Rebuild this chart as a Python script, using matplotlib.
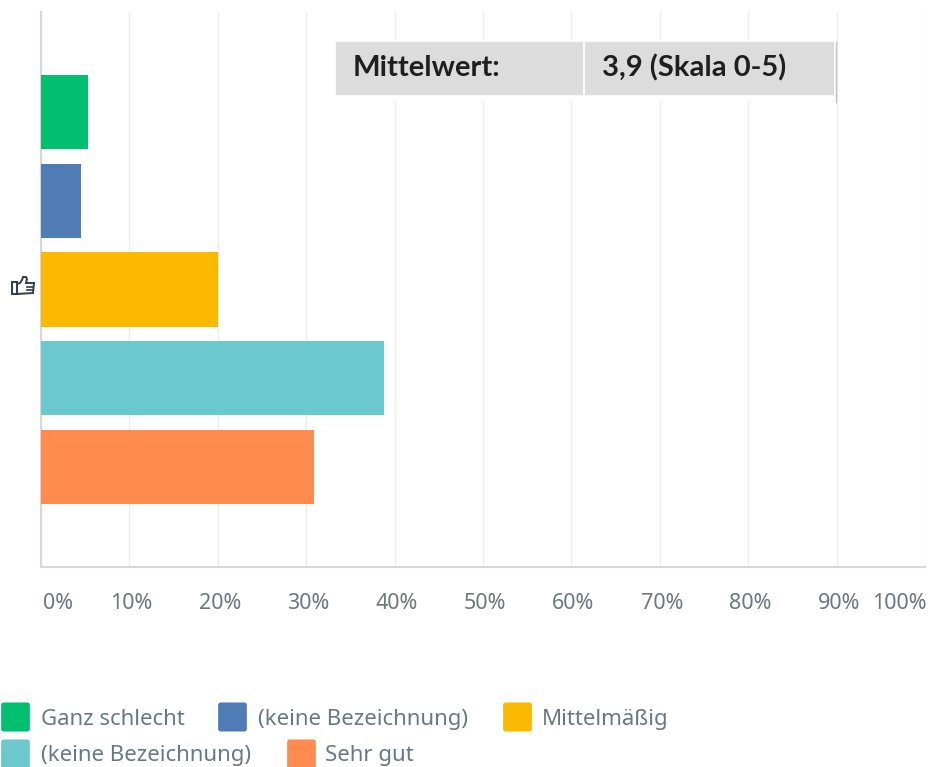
import matplotlib
matplotlib.use("Agg")
import matplotlib.pyplot as plt
from matplotlib.lines import Line2D
from matplotlib.patches import Polygon, Rectangle, FancyBboxPatch
from matplotlib.transforms import ScaledTranslation

W, H = 931, 767

labels = ["Ganz schlecht", "(keine Bezeichnung)", "Mittelmäßig", "(keine Bezeichnung)", "Sehr gut"]
values = [5.3, 4.5, 20.0, 38.8, 30.9]
colors = ["#00BF6F", "#507CB6", "#FBBA00", "#6BC8CD", "#FF8B4F"]
ticks = [0, 10, 20, 30, 40, 50, 60, 70, 80, 90, 100]
tick_labels = ["0%", "10%", "20%", "30%", "40%", "50%", "60%", "70%", "80%", "90%", "100%"]
mean_label = "Mittelwert:"
mean_value = "3,9 (Skala 0-5)"

text_col = "#6B787F"
icon_col = "#333E48"
plt.rcParams["font.family"] = ["Noto Sans", "DejaVu Sans"]


def fx(px):
    return px / W


def fy(py):
    return 1 - py / H


def fxy(points):
    return [(fx(x), fy(y)) for x, y in points]


fig = plt.figure(figsize=(W / 100, H / 100), dpi=100)
ax = fig.add_axes([fx(41), fy(567), fx(925 - 41), (567 - 12) / H])

ax.barh(range(len(values)), values, height=0.835, color=colors, zorder=3)
ax.set_xlim(0, 100)
ax.set_ylim(5.127, -1.127)
ax.set_yticks([])
ax.set_xticks(ticks)
ax.set_xticklabels(tick_labels, fontsize=15.5, color=text_col)
ax.tick_params(axis="x", length=0, pad=19)
ax.get_xticklabels()[0].set_ha("left")
ax.get_xticklabels()[-1].set_ha("right")
shift = ScaledTranslation(2 / 100, 0, fig.dpi_scale_trans)
for lab in ax.get_xticklabels():
    lab.set_transform(lab.get_transform() + shift)
ax.grid(axis="x", color="#EBECEC", lw=1.0, zorder=0)
for s in ["top", "right"]:
    ax.spines[s].set_visible(False)
for s in ["left", "bottom"]:
    ax.spines[s].set_color("#D5D7D8")
    ax.spines[s].set_linewidth(1.5)

# thumb icon, no installed font has the glyph
hand = [(17, 284), (20, 283), (22, 280), (23, 277), (26, 277), (27, 279), (26, 283),
        (34, 283), (33, 293), (17, 294)]
fig.add_artist(Polygon(fxy(hand), closed=True, fill=False, edgecolor=icon_col, lw=1.4))
fig.add_artist(Rectangle((fx(12), fy(294)), fx(5), 12 / H, fill=False, edgecolor=icon_col, lw=1.4))
for a, b in [((27, 287), (33, 287)), ((27, 290), (33, 290))]:
    fig.add_artist(Line2D(*zip(*fxy([a, b])), color=icon_col, lw=1.2))

# mean box
fig.add_artist(Rectangle((fx(334), fy(100)), fx(500), 60 / H, color="white", zorder=4))
fig.add_artist(Line2D([fx(836), fx(836)], [fy(42), fy(102)], color="#C4C4C4", lw=1.0, zorder=5))
fig.add_artist(Rectangle((fx(336), fy(94)), fx(246), 52 / H, color="#DCDCDC", zorder=5))
fig.add_artist(Rectangle((fx(585), fy(94)), fx(248), 52 / H, color="#DCDCDC", zorder=5))
fig.text(fx(353), fy(68), mean_label, fontsize=21, fontweight="bold", color="#1F1F1F",
         family="Lato", ha="left", va="center", zorder=6)
fig.text(fx(602), fy(68), mean_value, fontsize=21, fontweight="bold", color="#1F1F1F",
         family="Lato", ha="left", va="center", zorder=6)

# legend
swatch_pos = [(1, 702), (218, 702), (503, 702), (1, 739), (287, 739)]
text_pos = [(41, 719.5), (258, 719.5), (542, 719.5), (41, 755.5), (325, 755.5)]
for lab, col, (sx, sy), (tx, ty) in zip(labels, colors, swatch_pos, text_pos):
    fig.add_artist(FancyBboxPatch((fx(sx + 2), fy(sy + 28)), fx(25), 26 / H,
                                  boxstyle="round,pad=0.002,rounding_size=0.003",
                                  transform=fig.transFigure, facecolor=col, edgecolor=col, lw=0))
    fig.text(fx(tx), fy(ty), lab, fontsize=16, color=text_col, ha="left", va="center")

fig.savefig("out.png", dpi=100)
